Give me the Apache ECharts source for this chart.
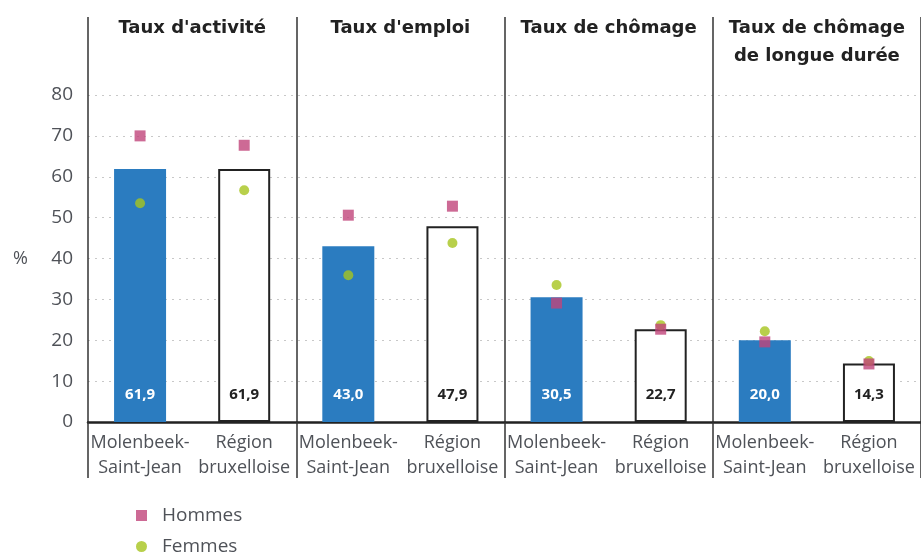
<!DOCTYPE html>
<html>
<head>
<meta charset="utf-8">
<script src="https://cdn.jsdelivr.net/npm/echarts@6/dist/echarts.min.js"></script>
<style>
  html, body { margin: 0; padding: 0; background: #fff; }
  #chart { width: 921px; height: 552px; }
</style>
</head>
<body>
<div id="chart"></div>
<script>
// Indicator groups shown across the top
const panels = ["Taux d'activité", "Taux d'emploi", "Taux de chômage", "Taux de chômage\nde longue durée"];
// Two areas compared inside each group
const categories = [
  "Molenbeek-\nSaint-Jean", "Région\nbruxelloise",
  "Molenbeek-\nSaint-Jean", "Région\nbruxelloise",
  "Molenbeek-\nSaint-Jean", "Région\nbruxelloise",
  "Molenbeek-\nSaint-Jean", "Région\nbruxelloise"
];
// Overall rate (%) per area
const totals = [61.9, 61.9, 43.0, 47.9, 30.5, 22.7, 20.0, 14.3];
// Rates for men and women (%)
const hommes = [70.0, 67.7, 50.6, 52.8, 29.1, 22.7, 19.6, 14.2];
const femmes = [53.5, 56.7, 35.9, 43.8, 33.5, 23.7, 22.2, 14.9];
// Value axis ticks
const yTicks = [0, 10, 20, 30, 40, 50, 60, 70, 80];

const FONT = "'Open Sans', 'Noto Sans', sans-serif";
const TITLE_FONT = "'DejaVu Sans', 'Noto Sans', sans-serif";
const BLUE = '#2b7cc0';
const INK = '#222';
const GREY = '#4f5258';
const DIVIDER = { color: '#333', width: 1.5 };

const chart = echarts.init(document.getElementById('chart'));

const barData = totals.map((v, i) => {
  const isRegion = i % 2 === 1;
  return {
    value: v,
    itemStyle: isRegion
      ? { color: '#fff', borderColor: INK, borderWidth: 2 }
      : { color: BLUE, borderWidth: 0 },
    label: { color: isRegion ? INK : '#fff' }
  };
});

const legendText = { fontFamily: FONT, fontSize: 19, color: GREY, padding: [0, 0, 0, 10] };

chart.setOption({
  animation: false,
  textStyle: { fontFamily: FONT },
  grid: { left: 88, top: 95, width: 834, height: 327, containLabel: false },
  legend: [
    {
      left: 131, top: 501, itemWidth: 11, itemHeight: 11,
      data: [{ name: 'Hommes', icon: 'rect' }],
      textStyle: legendText
    },
    {
      left: 131, top: 532, itemWidth: 11, itemHeight: 11,
      data: [{ name: 'Femmes', icon: 'circle' }],
      textStyle: legendText
    }
  ],
  xAxis: [
    {
      // area names under the bars
      type: 'category',
      position: 'bottom',
      data: categories,
      axisLine: { show: true, lineStyle: { color: INK, width: 2.5 } },
      axisTick: { show: false },
      axisLabel: {
        interval: 0,
        margin: 8,
        fontFamily: FONT,
        fontSize: 18,
        lineHeight: 25,
        color: GREY
      },
      splitLine: { show: false }
    },
    {
      // group titles and the vertical dividers inside the plot
      type: 'category',
      position: 'top',
      data: panels,
      axisLine: { show: false },
      axisTick: { show: true, interval: 0, length: 78, lineStyle: DIVIDER },
      axisLabel: {
        interval: 0,
        margin: 81,
        verticalAlign: 'top',
        fontFamily: TITLE_FONT,
        fontSize: 18,
        fontWeight: 'bold',
        lineHeight: 28,
        color: INK
      },
      splitLine: { show: true, interval: 0, lineStyle: DIVIDER }
    },
    {
      // dividers continued down between the area names
      type: 'category',
      position: 'bottom',
      data: panels,
      axisLine: { show: false },
      axisTick: { show: true, interval: 0, length: 56, lineStyle: DIVIDER },
      axisLabel: { show: false },
      splitLine: { show: false }
    }
  ],
  yAxis: {
    type: 'value',
    min: yTicks[0],
    max: yTicks[yTicks.length - 1],
    interval: 10,
    name: '%',
    nameLocation: 'middle',
    nameRotate: 0,
    nameGap: 60,
    nameTextStyle: { fontFamily: FONT, fontSize: 18, color: GREY, padding: [8, 0, 0, 0] },
    axisLine: { show: false },
    axisTick: { show: false },
    axisLabel: { margin: 15, fontFamily: FONT, fontSize: 19, color: GREY },
    splitLine: { show: true, lineStyle: { color: '#c8c8c8', type: [2, 5], width: 1 } }
  },
  series: [
    {
      type: 'bar',
      xAxisIndex: 0,
      barWidth: 52,
      data: barData,
      z: 2,
      label: {
        show: true,
        position: 'insideBottom',
        distance: 20,
        fontFamily: "'Liberation Sans Narrow', 'Noto Sans', sans-serif",
        fontSize: 15,
        fontWeight: 'bold',
        formatter: p => p.value.toFixed(1).replace('.', ',')
      }
    },
    {
      name: 'Femmes',
      type: 'scatter',
      xAxisIndex: 0,
      symbol: 'circle',
      symbolSize: 10,
      itemStyle: { color: '#a6c41e' },
      data: femmes,
      z: 3
    },
    {
      name: 'Hommes',
      type: 'scatter',
      xAxisIndex: 0,
      symbol: 'rect',
      symbolSize: 11,
      itemStyle: { color: '#c0457a' },
      data: hommes,
      z: 4
    }
  ]
});
</script>
</body>
</html>
